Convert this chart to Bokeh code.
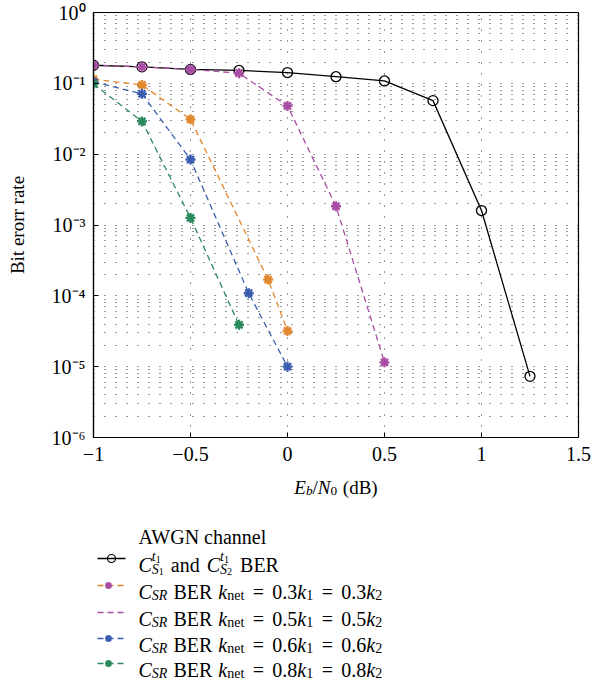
from bokeh.plotting import figure
from bokeh.models import FixedTicker, Range1d
from bokeh.layouts import column
from bokeh.embed import file_html
from bokeh.resources import INLINE
from bokeh.core.properties import value

# ---------------- data ----------------
x_ref = [-1, -0.75, -0.5, -0.25, 0, 0.25, 0.5, 0.75, 1, 1.25]
ber_ref = [0.18, 0.171, 0.157, 0.152, 0.142, 0.124, 0.108, 0.057, 0.0016, 7.3e-6]

x_03 = [-1, -0.75, -0.5, -0.1, 0]
ber_03 = [0.114, 0.095, 0.031, 1.7e-4, 3.2e-5]

x_05 = [-1, -0.75, -0.5, -0.25, 0, 0.25, 0.5]
ber_05 = [0.18, 0.171, 0.157, 0.139, 0.048, 0.00184, 1.15e-5]

x_06 = [-1, -0.75, -0.5, -0.2, 0]
ber_06 = [0.105, 0.071, 0.0084, 1.09e-4, 1.0e-5]

x_08 = [-1, -0.75, -0.5, -0.25]
ber_08 = [0.098, 0.029, 0.00126, 3.9e-5]

x_ticks = [-1, -0.5, 0, 0.5, 1, 1.5]
x_tick_labels = ["\u22121", "\u22120.5", "0", "0.5", "1", "1.5"]
y_ticks = [1e-6, 1e-5, 1e-4, 1e-3, 1e-2, 1e-1, 1.0]
y_tick_labels = ["10\u207b\u2076", "10\u207b\u2075", "10\u207b\u2074", "10\u207b\u00b3",
                 "10\u207b\u00b2", "10\u207b\u00b9", "10\u2070"]
y_minor = [k * d for d in y_ticks[:-1] for k in range(2, 10)]

series_colors = ["#E3872D", "#A84DA3", "#3B5DB0", "#2A8A5E"]
legend_title = "AWGN channel"
knet_values = ["0.3", "0.5", "0.6", "0.8"]

FONT = "Liberation Serif"
W = 591
LB, RB, TB, BB = 93, 13, 12, 33
FH = 425
MH = TB + FH + BB

# ---------------- main plot ----------------
p = figure(width=W, height=MH, x_range=Range1d(-1, 1.5), y_range=Range1d(1e-6, 1),
           y_axis_type="log", output_backend="svg", toolbar_location=None, title=None,
           min_border_left=LB, min_border_right=RB, min_border_top=TB, min_border_bottom=BB)
p.background_fill_color = "white"
p.border_fill_color = "white"
p.outline_line_color = "black"
p.outline_line_width = 1.2

xt = FixedTicker(ticks=x_ticks, minor_ticks=[])
yt = FixedTicker(ticks=y_ticks, minor_ticks=y_minor)
p.xaxis.ticker = xt
p.yaxis.ticker = yt
p.xgrid.ticker = xt
p.ygrid.ticker = yt
p.xaxis.major_label_overrides = {float(k): v for k, v in zip(x_ticks, x_tick_labels)}
p.yaxis.major_label_overrides = {float(k): v for k, v in zip(y_ticks, y_tick_labels)}

for ax in (p.xaxis[0], p.yaxis[0]):
    ax.axis_line_color = "black"
    ax.axis_line_width = 1.2
    ax.major_tick_in = 5
    ax.major_tick_out = 0
    ax.minor_tick_in = 0
    ax.minor_tick_out = 0
    ax.major_tick_line_color = "black"
    ax.major_label_text_font = FONT
    ax.major_label_text_font_size = "20px"
    ax.major_label_text_color = "black"
p.xaxis.major_label_standoff = 9
p.yaxis.major_label_standoff = 8
p.yaxis.axis_label = "Bit erorr rate"
p.yaxis.axis_label_text_font = FONT
p.yaxis.axis_label_text_font_size = "19px"
p.yaxis.axis_label_text_font_style = "normal"
p.yaxis.axis_label_text_color = "black"
p.yaxis.axis_label_standoff = 21

for g in (p.xgrid[0], p.ygrid[0]):
    g.grid_line_color = "#333333"
    g.grid_line_dash = "1 10"
    g.grid_line_width = 1
p.ygrid.minor_grid_line_color = "#333333"
p.ygrid.minor_grid_line_dash = "1 10"
p.ygrid.minor_grid_line_width = 1

p.line(x_ref, ber_ref, line_color="black", line_width=1.3)
p.scatter(x_ref, ber_ref, marker="circle", size=10, fill_alpha=0,
          line_color="black", line_width=1.3)

for xs, ys, col in zip([x_03, x_05, x_06, x_08], [ber_03, ber_05, ber_06, ber_08], series_colors):
    p.line(xs, ys, line_color=col, line_width=1.3, line_dash="6 4")
    p.scatter(xs, ys, marker="asterisk", size=10, line_color=col, line_width=2.4)

# ---------------- legend / x-label panel (page coordinates) ----------------
GAP = 7          # observed offset between the two canvases
LH = 213
FL = LB
FR = W - RB
TOP2 = MH + GAP
lg = figure(width=W, height=LH, x_range=Range1d(FL, FR), y_range=Range1d(TOP2 + LH, TOP2),
            output_backend="svg", toolbar_location=None, min_border=0, title=None,
            x_axis_location=None, y_axis_location=None)
lg.grid.visible = False
lg.outline_line_color = None
lg.background_fill_color = "white"
lg.border_fill_color = "white"

REG = {' ': 250, 'A': 722, 'B': 667, 'C': 667, 'D': 722, 'E': 611, 'G': 722, 'N': 722,
       'R': 667, 'S': 556, 'W': 944, 'a': 444, 'b': 500, 'c': 444, 'd': 500, 'e': 444,
       'h': 500, 'l': 278, 'n': 500, 't': 278, '(': 333, ')': 333, '.': 250, '=': 564,
       '/': 278}
ITA = {'C': 667, 'E': 611, 'N': 667, 'S': 500, 'R': 611, 'k': 444, 't': 278, 'b': 500}

store = {}


def item_w(item, size):
    kind = item[0]
    if kind == "gap":
        return item[1] * size
    if kind == "t":
        tab = ITA if item[2] else REG
        return sum(tab.get(ch, 500) for ch in item[1]) / 1000.0 * size * item[3]
    return max(sum(item_w(s, size) for s in item[1]), sum(item_w(s, size) for s in item[2]))


def place(item, x, ybase, size):
    kind = item[0]
    if kind == "t":
        _, t, it, sc, dy = item
        key = (it, round(size * sc, 1))
        store.setdefault(key, ([], [], []))
        store[key][0].append(x)
        store[key][1].append(ybase + dy * size)
        store[key][2].append(t)
    elif kind == "stack":
        for grp in (item[1], item[2]):
            xx = x
            for s in grp:
                place(s, xx, ybase, size)
                xx += item_w(s, size)


def rich(x0, ybase, items, size, align="left"):
    total = sum(item_w(i, size) for i in items)
    x = x0 - total / 2.0 if align == "center" else x0
    for it in items:
        place(it, x, ybase, size)
        x += item_w(it, size)


def T(t, it=False, sc=1.0, dy=0.0):
    return ("t", t, it, sc, dy)


def G(em):
    return ("gap", em)


LS = 20  # legend font size
SUBDY = 0.16
# x-axis label
rich((FL + FR) / 2.0, 488 + 0.33 * 19,
     [T("E", True), T("b", True, 0.7, SUBDY), T("/"), T("N", True),
      T("0", False, 0.7, SUBDY), G(0.3), T("(dB)")], 19, align="center")
# legend title
TX = 138
rich(TX, 537 + 0.33 * LS, [T(legend_title)], LS)

rows_y = [565, 592, 619, 645, 670]


def cstack(n):
    return ("stack", [T("t", True, 0.7, -0.42), T("1", False, 0.5, -0.3)],
            [T("S", True, 0.7, 0.22), T(n, False, 0.5, 0.34)])


rich(TX, rows_y[0] + 0.33 * LS, [T("C", True), cstack("1"), G(0.35), T("and"), G(0.35),
                                 T("C", True), cstack("2"), G(0.4), T("BER")], LS)
for kv, ry in zip(knet_values, rows_y[1:]):
    rich(TX, ry + 0.33 * LS,
         [T("C", True), T("SR", True, 0.7, SUBDY), G(0.3), T("BER"), G(0.3), T("k", True),
          T("net", False, 0.7, SUBDY), G(0.42), T("="), G(0.42), T(kv), T("k", True),
          T("1", False, 0.7, SUBDY), G(0.42), T("="), G(0.42), T(kv), T("k", True),
          T("2", False, 0.7, SUBDY)], LS)

for (it, fs), (xs, ys, ts) in store.items():
    lg.text(x=xs, y=ys, text=ts, text_font=value(FONT), text_font_size=value(f"{fs}px"),
            text_font_style="italic" if it else "normal", text_baseline="alphabetic",
            text_align="left", text_color="black")

# legend samples
SX0, SX1, MX = 97, 125, 110
lg.line([SX0, SX1], [rows_y[0], rows_y[0]], line_color="black", line_width=1.3)
lg.scatter([MX + 1], [rows_y[0]], marker="circle", size=8, fill_alpha=0,
           line_color="black", line_width=1.2)
sample_marker_colors = [series_colors[1], None, series_colors[2], series_colors[3]]
for col, mcol, ry in zip(series_colors, sample_marker_colors, rows_y[1:]):
    lg.line([SX0, SX1], [ry, ry], line_color=col, line_width=1.3, line_dash="6 4")
    if mcol is not None:
        lg.scatter([MX - 2], [ry], marker="asterisk", size=7, line_color=mcol, line_width=2.2)

layout = column(p, lg, spacing=0)
open("out.html", "w").write(file_html(layout, INLINE))
